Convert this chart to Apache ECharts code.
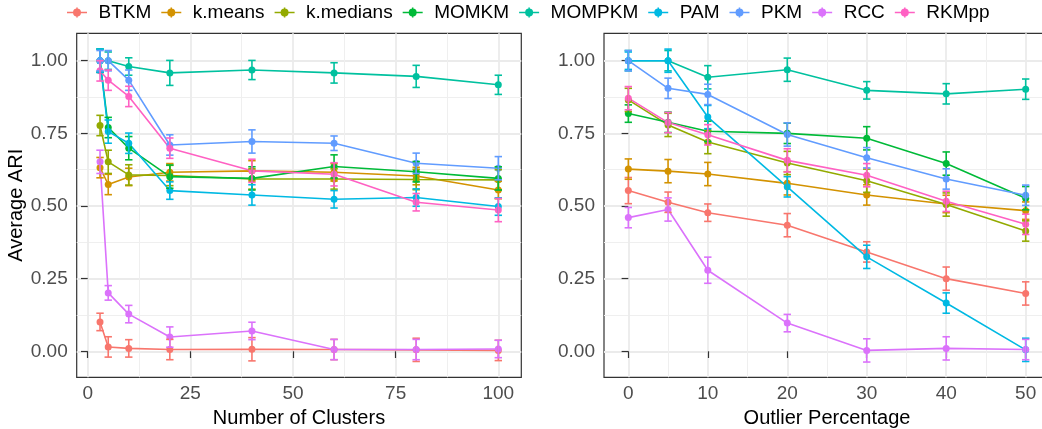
<!DOCTYPE html>
<html><head><meta charset="utf-8">
<script src="https://cdn.jsdelivr.net/npm/echarts@6/dist/echarts.min.js"></script>
<style>html,body{margin:0;padding:0;background:#fff}#c{width:1042px;height:429px}</style>
</head><body><div id="c"></div><script>
const methods = ['BTKM','k.means','k.medians','MOMKM','MOMPKM','PAM','PKM','RCC','RKMpp'];
const colors = ['#F8766D','#D39200','#93AA00','#00BA38','#00C19F','#00B9E3','#619CFF','#DB72FB','#FF61C3'];

const clusters = [3,5,10,20,40,60,80,100];
const clusterMeans = [
  [0.101,0.015,0.010,0.006,0.007,0.006,0.005,0.003],
  [0.632,0.574,0.600,0.616,0.621,0.616,0.603,0.555],
  [0.777,0.652,0.607,0.605,0.593,0.593,0.591,0.590],
  [1.000,0.770,0.699,0.601,0.595,0.636,0.618,0.595],
  [1.000,1.000,0.980,0.958,0.968,0.958,0.946,0.917],
  [1.000,0.756,0.716,0.553,0.538,0.523,0.529,0.498],
  [1.000,1.000,0.933,0.710,0.722,0.716,0.647,0.630],
  [0.652,0.201,0.128,0.049,0.070,0.006,0.006,0.008],
  [0.965,0.933,0.877,0.699,0.621,0.609,0.513,0.486]
];
const clusterErr = [
  [0.030,0.035,0.030,0.035,0.040,0.035,0.040,0.035],
  [0.035,0.035,0.030,0.030,0.035,0.030,0.030,0.030],
  [0.035,0.040,0.035,0.035,0.035,0.035,0.035,0.035],
  [0.040,0.035,0.040,0.040,0.040,0.040,0.035,0.040],
  [0.040,0.030,0.030,0.043,0.033,0.035,0.038,0.033],
  [0.040,0.040,0.035,0.030,0.035,0.030,0.030,0.030],
  [0.035,0.035,0.035,0.035,0.040,0.025,0.035,0.040],
  [0.040,0.025,0.030,0.035,0.030,0.035,0.035,0.030],
  [0.035,0.035,0.035,0.035,0.040,0.040,0.030,0.040]
];

const outlierPct = [0,5,10,20,30,40,50];
const outlierMeans = [
  [0.553,0.513,0.477,0.434,0.342,0.250,0.199],
  [0.627,0.620,0.610,0.578,0.538,0.507,0.484],
  [0.865,0.779,0.720,0.648,0.587,0.505,0.414],
  [0.818,0.788,0.757,0.750,0.733,0.646,0.527],
  [1.000,1.000,0.943,0.969,0.898,0.886,0.902],
  [1.000,1.000,0.806,0.566,0.325,0.166,0.005],
  [1.000,0.905,0.884,0.746,0.666,0.593,0.537],
  [0.460,0.488,0.279,0.097,0.003,0.010,0.006],
  [0.871,0.787,0.745,0.657,0.606,0.516,0.437]
];
const outlierErr = [
  [0.045,0.035,0.030,0.040,0.035,0.040,0.040],
  [0.035,0.040,0.040,0.040,0.035,0.030,0.030],
  [0.040,0.040,0.040,0.040,0.040,0.040,0.035],
  [0.030,0.035,0.035,0.035,0.040,0.040,0.040],
  [0.035,0.035,0.040,0.040,0.030,0.035,0.035],
  [0.030,0.040,0.040,0.035,0.040,0.035,0.040],
  [0.035,0.035,0.035,0.040,0.035,0.035,0.035],
  [0.035,0.040,0.045,0.030,0.040,0.040,0.035],
  [0.040,0.035,0.035,0.040,0.040,0.035,0.035]
];

const yTicks = [0,0.25,0.5,0.75,1];
const yMinor = [0.125,0.375,0.625,0.875];
const clusterTicks = [0,25,50,75,100];
const clusterMinor = [12.5,37.5,62.5,87.5];
const outlierTicks = [0,10,20,30,40,50];
const outlierMinor = [5,15,25,35,45];

const FONT = 'Liberation Sans, Arial, sans-serif';
const chart = echarts.init(document.getElementById('c'), null, {renderer:'canvas'});

function errRender(color){
  return function(params, api){
    const x = api.value(0), lo = api.value(1), hi = api.value(2);
    const a = api.coord([x, lo]), b = api.coord([x, hi]);
    const w = 3.7;
    const st = {stroke: color, lineWidth: 1.6, fill: null};
    return {type:'group', children:[
      {type:'line', shape:{x1:a[0],y1:a[1],x2:b[0],y2:b[1]}, style:st},
      {type:'line', shape:{x1:a[0]-w,y1:a[1],x2:a[0]+w,y2:a[1]}, style:st},
      {type:'line', shape:{x1:b[0]-w,y1:b[1],x2:b[0]+w,y2:b[1]}, style:st}
    ]};
  };
}

const grids = [
  {left:76.7, top:33.3, width:444.6, height:344},
  {left:604, top:33.3, width:446, height:344}
].map(g => Object.assign(g, {show:true, borderColor:'#333333', borderWidth:1.2, backgroundColor:'#fff',
  containLabel:false, outerBoundsMode:'none'}));

const yMin = -0.0895, yMax = 1.0943;
function majorY(gi, showName){
  return {type:'value', gridIndex:gi, min:yMin, max:yMax,
    name: showName ? 'Average ARI' : '', nameLocation:'middle', nameGap:45,
    nameTextStyle:{color:'#000', fontSize:20, fontFamily:FONT},
    axisLine:{show:false},
    axisTick:{show:true, length:6.7, lineStyle:{color:'#333333', width:1.2}, customValues:yTicks},
    axisLabel:{show:true, color:'#4D4D4D', fontSize:19, fontFamily:FONT, margin:9, customValues:yTicks,
      formatter: v => Number(v).toFixed(2)},
    splitLine:{show:true, lineStyle:{color:'#EBEBEB', width:1.8}}
  };
}
function minorY(gi){
  return {type:'value', gridIndex:gi, min:yMin, max:yMax, position:'right',
    axisLine:{show:false}, axisTick:{show:false, customValues:yMinor}, axisLabel:{show:false, customValues:yMinor},
    splitLine:{show:true, lineStyle:{color:'#EFEFEF', width:1}}};
}
function majorX(gi, mn, mx, ticks, name){
  return {type:'value', gridIndex:gi, min:mn, max:mx,
    name:name, nameLocation:'middle', nameGap:23,
    nameTextStyle:{color:'#000', fontSize:20, fontFamily:FONT},
    axisLine:{show:false},
    axisTick:{show:true, length:6.7, lineStyle:{color:'#333333', width:1.2}, customValues:ticks},
    axisLabel:{show:true, color:'#4D4D4D', fontSize:19, fontFamily:FONT, margin:7, customValues:ticks,
      formatter: v => String(v)},
    splitLine:{show:true, lineStyle:{color:'#EBEBEB', width:1.8}}
  };
}
function minorX(gi, mn, mx, ticks){
  return {type:'value', gridIndex:gi, min:mn, max:mx, position:'top',
    axisLine:{show:false}, axisTick:{show:false, customValues:ticks}, axisLabel:{show:false, customValues:ticks},
    splitLine:{show:true, lineStyle:{color:'#EFEFEF', width:1}}};
}

const xAxes = [
  majorX(0, -2.68, 105.6, clusterTicks, 'Number of Clusters'),
  majorX(1, -3.06, 53.06, outlierTicks, 'Outlier Percentage'),
  minorX(0, -2.68, 105.6, clusterMinor),
  minorX(1, -3.06, 53.06, outlierMinor)
];
const yAxes = [ majorY(0, true), majorY(1, false), minorY(0), minorY(1) ];

const series = [];
function addPanel(xs, means, errs, axisIdx){
  methods.forEach((m, i) => {
    series.push({
      type:'line', name:m, xAxisIndex:axisIdx, yAxisIndex:axisIdx,
      data: xs.map((x, j) => [x, means[i][j]]),
      symbol:'circle', symbolSize:7, showSymbol:true,
      lineStyle:{color:colors[i], width:1.6}, itemStyle:{color:colors[i]},
      z:2, silent:true
    });
  });
  methods.forEach((m, i) => {
    series.push({
      type:'custom', name:m, xAxisIndex:axisIdx, yAxisIndex:axisIdx,
      data: xs.map((x, j) => [x, means[i][j] - errs[i][j], means[i][j] + errs[i][j]]),
      encode:{x:0, y:[1,2]},
      renderItem: errRender(colors[i]), itemStyle:{color:colors[i]},
      z:3, silent:true
    });
  });
}
addPanel(clusters, clusterMeans, clusterErr, 0);
addPanel(outlierPct, outlierMeans, outlierErr, 1);

const iconPath = 'path://M0 3.8L18 3.8L18 5.2L0 5.2Z M8.3 0L9.7 0L9.7 9L8.3 9Z M12.6 4.5A3.6 3.6 0 1 1 5.4 4.5A3.6 3.6 0 1 1 12.6 4.5Z';

chart.setOption({
  animation:false,
  backgroundColor:'#fff',
  color: colors,
  textStyle:{fontFamily:FONT},
  legend:{
    data: methods.map(m => ({name:m, icon:iconPath})),
    left:67, top:3, padding:0, itemGap:10, itemWidth:33, itemHeight:10,
    symbolKeepAspect:true,
    textStyle:{color:'#000', fontSize:19, fontFamily:FONT},
    selectedMode:false
  },
  grid: grids,
  xAxis: xAxes,
  yAxis: yAxes,
  series: series
});
</script></body></html>
